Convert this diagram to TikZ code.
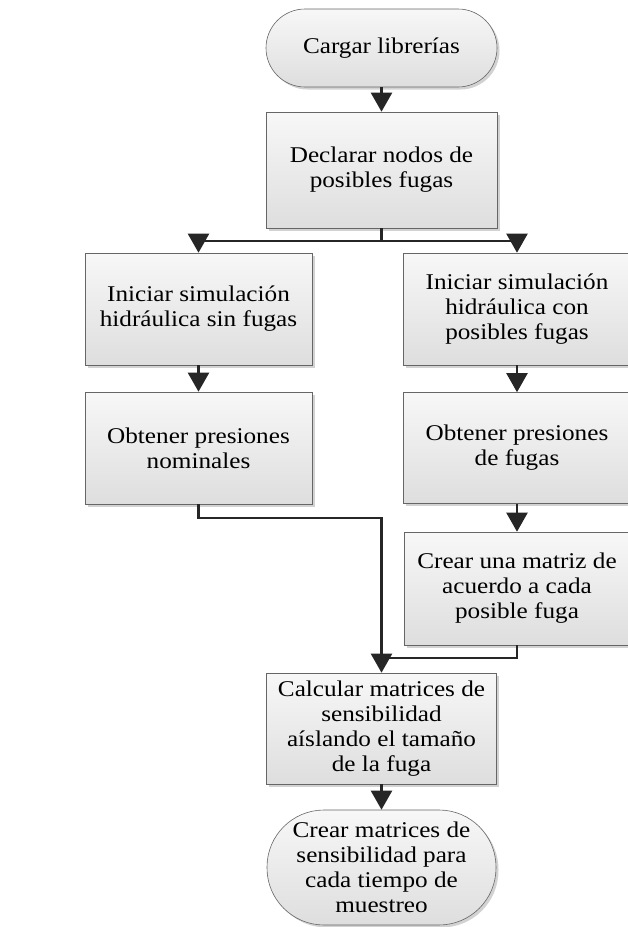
\documentclass[tikz,border=0pt]{standalone}
\usepackage{fontspec}
\setmainfont{Liberation Serif}[FakeStretch=1.12]
\usetikzlibrary{arrows.meta, shadows, calc}

\tikzset{
	box/.style={rectangle, draw=black!60, line width=0.6pt,
		top color=black!3, bottom color=black!13,
		drop shadow={shadow xshift=2.5pt, shadow yshift=-2.5pt, fill=black!35, opacity=0.5},
		align=center, inner sep=0pt, font=\fontsize{22.5}{25}\selectfont},
	term/.style={box, rounded corners=#1},
	flow/.style={draw=black!85, line width=2.2pt},
	flowarrow/.style={flow, -{Triangle[width=21pt,length=19pt]}}
}

\begin{document}
\begin{tikzpicture}[x=1pt, y=-1pt]
			\def\colL{198.5};
			\def\colM{381.5};
			\def\colR{517};

			\useasboundingbox (0,0) rectangle (628,927);

			\begin{scope}
				\node [term=39pt, minimum width=231pt, minimum height=78pt] (cargar) at (\colM,48) {Cargar librerías};
				\node [box, minimum width=231pt, minimum height=116pt] (declarar) at (\colM,170) {Declarar nodos de\\posibles fugas};
			\end{scope}

			\begin{scope}
				\node [box, minimum width=227pt, minimum height=112pt] (simSin) at (\colL,309) {Iniciar simulación\\hidráulica sin fugas};
				\node [box, minimum width=227pt, minimum height=112pt] (presNom) at (\colL,448) {Obtener presiones\\nominales};
			\end{scope}

			\begin{scope}
				\node [box, minimum width=228pt, minimum height=112pt] (simCon) at (\colR,309) {Iniciar simulación\\hidráulica con\\posibles fugas};
				\node [box, minimum width=228pt, minimum height=111pt] (presFug) at (\colR,448) {Obtener presiones\\de fugas};
				\node [box, minimum width=226pt, minimum height=113pt] (matriz) at (\colR,588.5) {Crear una matriz de\\acuerdo a cada\\posible fuga};
			\end{scope}

			\begin{scope}
				\node [box, minimum width=230pt, minimum height=111pt] (calcular) at (\colM,728.5) {Calcular matrices de\\sensibilidad\\aíslando el tamaño\\de la fuga};
				\node [term=57pt, minimum width=229pt, minimum height=115pt] (crearSens) at (\colM,867.5) {Crear matrices de\\sensibilidad para\\cada tiempo de\\muestreo};
			\end{scope}

			\coordinate (split) at ($ (declarar.south) + (0,13) $);
			\coordinate (joinNom) at ($ (presNom.south) + (0,14) $);
			\coordinate (joinMat) at ($ (matriz.south) + (0,13) $);

			\begin{scope}[flowarrow]
				\draw (cargar) -- (declarar);
				\draw (simSin) -- (presNom);
				\draw (simCon) -- (presFug);
				\draw (presFug) -- (matriz);
				\draw (calcular) -- (crearSens);
				\draw (split) -| (simSin.north);
				\draw (split) -| (simCon.north);
				\draw (presNom.south) -- (joinNom) -| (calcular.north);
			\end{scope}

			\begin{scope}[flow]
				\draw (declarar.south) -- (split);
				\draw (matriz.south) -- (joinMat) -- (joinMat -| calcular.north);
			\end{scope}
		\end{tikzpicture}
\end{document}
